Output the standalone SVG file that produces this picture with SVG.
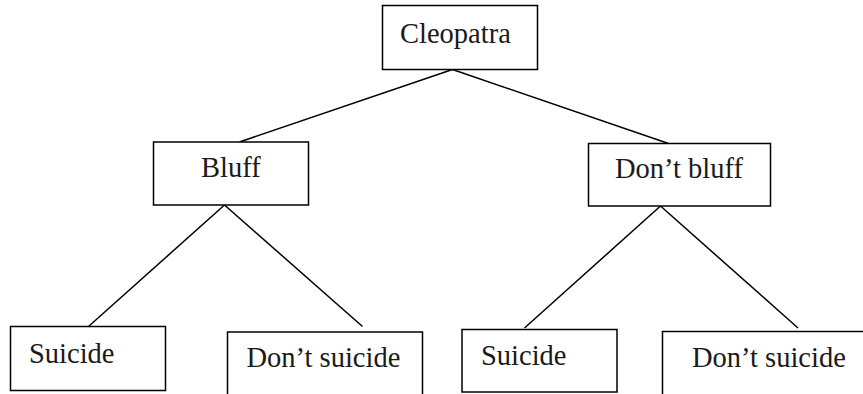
<svg xmlns="http://www.w3.org/2000/svg" width="863" height="394" viewBox="0 0 863 394">
<style>
.box{fill:#fff;stroke:#000;stroke-width:1.5}
.lbl{font-family:"Liberation Serif","Times New Roman",serif;font-size:28.5px;fill:#1a1a1a}
.edge{stroke:#000;stroke-width:1.5;fill:none}
</style>
<rect width="863" height="394" fill="#fff"/>
<g id="connectors">
<line class="edge" x1="452.5" y1="69.5" x2="239.5" y2="142"/>
<line class="edge" x1="452.5" y1="69.5" x2="668.5" y2="143.5"/>
<line class="edge" x1="224.5" y1="205" x2="88.5" y2="326.5"/>
<line class="edge" x1="224.5" y1="205" x2="362.5" y2="326.5"/>
<line class="edge" x1="660.5" y1="206" x2="524.5" y2="328"/>
<line class="edge" x1="660.5" y1="206" x2="798" y2="328"/>
</g>
<g id="cleopatra">
<rect class="box" x="382.5" y="5.5" width="155" height="64"/>
<text class="lbl" x="400" y="42.5">Cleopatra</text>
</g>
<g id="bluff">
<rect class="box" x="153.5" y="142" width="155" height="63"/>
<text class="lbl" x="201" y="177">Bluff</text>
</g>
<g id="dont-bluff">
<rect class="box" x="588.5" y="143.5" width="182" height="62.5"/>
<text class="lbl" x="615" y="178">Don’t bluff</text>
</g>
<g id="suicide-1">
<rect class="box" x="10.5" y="326.5" width="155" height="64"/>
<text class="lbl" x="29" y="363">Suicide</text>
</g>
<g id="dont-suicide-1">
<rect class="box" x="227.5" y="332" width="195" height="70"/>
<text class="lbl" x="246.5" y="366.5">Don’t suicide</text>
</g>
<g id="suicide-2">
<rect class="box" x="462" y="329.5" width="155" height="62.5"/>
<text class="lbl" x="481" y="365">Suicide</text>
</g>
<g id="dont-suicide-2">
<rect class="box" x="662.5" y="331.5" width="210" height="70"/>
<text class="lbl" x="692" y="366.5">Don’t suicide</text>
</g>
</svg>
